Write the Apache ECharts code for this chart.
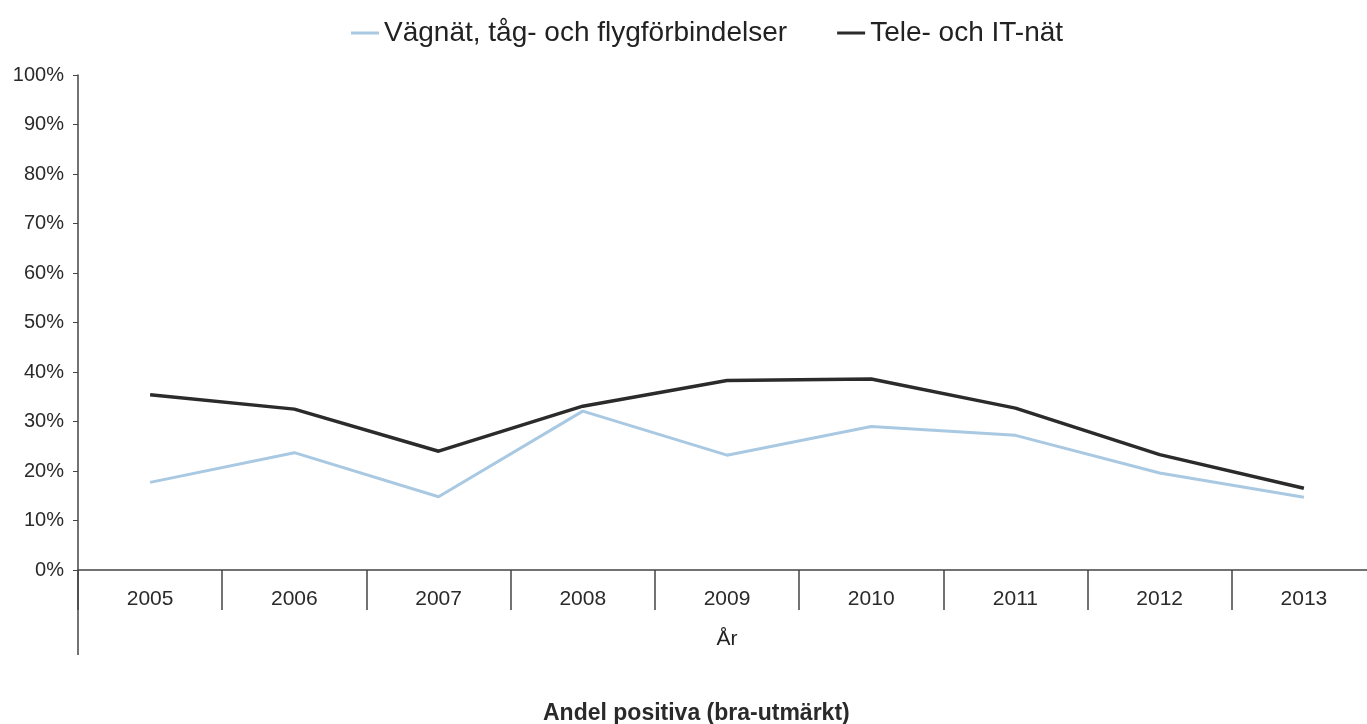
<!DOCTYPE html>
<html><head><meta charset="utf-8">
<script src="https://cdn.jsdelivr.net/npm/echarts@6/dist/echarts.min.js"></script>
<style>html,body{margin:0;padding:0;background:#fff}#c{width:1367px;height:724px}</style>
</head><body><div id="c"></div>
<script>
const categories = ['2005','2006','2007','2008','2009','2010','2011','2012','2013'];
const vagnat = [17.7, 23.7, 14.8, 32.1, 23.2, 29.0, 27.2, 19.6, 14.7];
const tele = [35.4, 32.5, 24.0, 33.1, 38.3, 38.6, 32.7, 23.3, 16.5];
const yTicks = [0,10,20,30,40,50,60,70,80,90,100];

const chart = echarts.init(document.getElementById('c'));
const font = 'Liberation Sans, Arial, sans-serif';
const title = {type: 'text', left: 543, top: 702,
  style: {text: 'Andel positiva (bra-utmärkt)', font: 'bold 23px ' + font, fill: '#2a2a2a'}};
chart.setOption({
  animation: false,
  textStyle: {fontFamily: font},
  legend: {
    top: 14, left: 346, itemGap: 50, itemWidth: 28, itemHeight: 3,
    textStyle: {fontSize: 28, color: '#222', fontFamily: font},
    data: [
      {name: 'Vägnät, tåg- och flygförbindelser', icon: 'rect'},
      {name: 'Tele- och IT-nät', icon: 'rect'}
    ]
  },
  grid: {left: 78, top: 75, width: 1298, bottom: 154, outerBoundsMode: 'none', containLabel: false},
  xAxis: {
    type: 'category', data: categories, boundaryGap: true,
    name: 'År', nameLocation: 'middle', nameGap: 59,
    nameTextStyle: {fontSize: 21, color: '#222'},
    axisLine: {lineStyle: {color: '#444', width: 1.5}},
    axisTick: {show: true, length: 40, lineStyle: {color: '#444', width: 1.5}},
    axisLabel: {fontSize: 21, color: '#2a2a2a', margin: 19}
  },
  yAxis: {
    type: 'value', min: 0, max: 100, interval: 10,
    axisLine: {show: true, lineStyle: {color: '#444', width: 1.5}},
    axisTick: {show: true, length: 5, lineStyle: {color: '#444'}},
    splitLine: {show: false},
    axisLabel: {fontSize: 20, color: '#2a2a2a', margin: 14, formatter: v => v + '%'}
  },
  graphic: [title],
  series: [
    {name: 'Vägnät, tåg- och flygförbindelser', type: 'line', data: vagnat,
     symbol: 'none', lineStyle: {color: '#a9c9e2', width: 3}, itemStyle: {color: '#a9c9e2'}},
    {name: 'Tele- och IT-nät', type: 'line', data: tele,
     symbol: 'none', lineStyle: {color: '#2b2b2b', width: 3.5}, itemStyle: {color: '#2b2b2b'}}
  ]
});
// extend y axis line below the x axis
const p0 = chart.convertToPixel({gridIndex: 0}, [0, 0]);
const gx = 78;
chart.setOption({graphic: [
  title,
  {type: 'line', shape: {x1: gx, y1: p0[1], x2: gx, y2: p0[1] + 85},
   style: {stroke: '#444', lineWidth: 1.5}}
]});
</script></body></html>
